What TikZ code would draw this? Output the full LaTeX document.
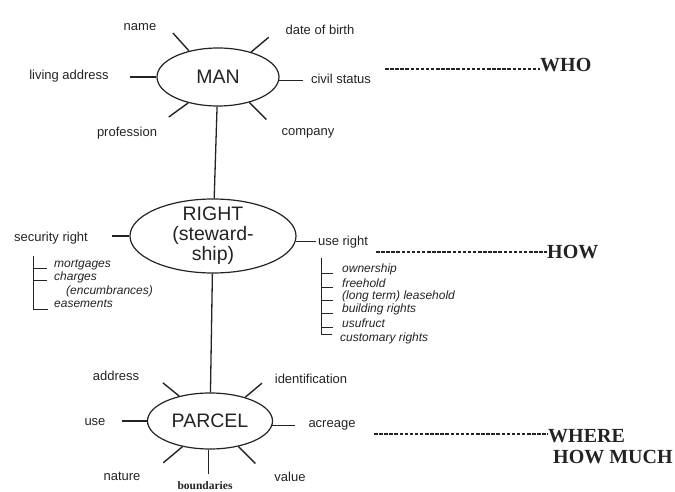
\documentclass[tikz,border=0pt]{standalone}
\usepackage{fontspec}
\setmainfont{Liberation Serif}
\setsansfont{Liberation Sans}
\usetikzlibrary{shapes.geometric,calc}
\definecolor{ink}{RGB}{35,35,35}
\tikzset{
  entity/.style={draw=ink, ellipse, line width=1.2pt, align=center,
                 inner xsep=0pt, inner ysep=-8pt, text=ink,
                 font=\sffamily\fontsize{19.5}{20}\selectfont},
  attr/.style  ={font=\sffamily\fontsize{13}{15}\selectfont,
                 text=ink, inner sep=1pt},
  item/.style  ={font=\sffamily\itshape\fontsize{12}{13}\selectfont,
                 text=ink, anchor=west, inner sep=0pt},
  spoke/.style ={draw=ink, line width=1.4pt},
  link/.style  ={draw=ink, line width=1.3pt},
  brk/.style   ={draw=ink, line width=1pt},
  qline/.style ={draw=ink, line width=1.3pt, dash pattern=on 3.5pt off 1.6pt},
  qword/.style ={font=\bfseries\fontsize{20}{21}\selectfont,
                 text=ink, anchor=base west, inner sep=0pt},
}

\begin{document}
\begin{tikzpicture}[x=1pt,y=1pt]
  \useasboundingbox (0,0) rectangle (675,-492);
  %% the three entities
  \node[entity, minimum width=122pt, minimum height=58pt] (man) at (218,-77) {MAN};
  \node[entity, minimum width=166pt, minimum height=74pt] (right) at (213,-236)
       {RIGHT\\(steward-\\ship)};
  \node[entity, minimum width=125pt, minimum height=56pt] (parcel) at (210,-421) {PARCEL};
  \draw[link] (man) -- (right);
  \draw[link] (right) -- (parcel);

  %% attributes of MAN
  \node[attr] (name)    at (140,-27)  {name};
  \node[attr] (birth)   at (320,-30)  {date of birth};
  \node[attr] (living)  at (69,-76)   {living address};
  \node[attr] (civil)   at (341,-79)  {civil status};
  \node[attr] (prof)    at (127,-133) {profession};
  \node[attr] (company) at (308,-133) {company};
  \draw[spoke] (man.138) -- ++(132:24);
  \draw[spoke] (man.37)  -- ++(40:23);
  \draw[spoke] (man.180) -- ++(180:26);
  \draw[spoke] (man.-3)  -- ++(0:24);
  \draw[spoke] (man.221) -- ++(216:24);
  \draw[spoke] (man.321) -- ++(315:24);

  %% kinds of RIGHT
  \node[attr] (secright) at (51,-238)  {security right};
  \node[attr] (useright) at (343,-242) {use right};
  \draw[spoke] (right.180) -- ++(180:17);
  \draw[spoke] (right.-4)  -- ++(0:20);

  \node[item] (mortg) at (54,-265) {mortgages};
  \node[item] (charg) at (54,-277) {charges};
  \node[item] (encum) at (66,-291) {(encumbrances)};
  \node[item] (easem) at (54,-304) {easements};
  \coordinate (secbar) at (33,-256);
  \draw[brk] (secbar) |- ($(easem.west)+(-6,-5)$);
  \foreach \it in {mortg,charg}
    \draw[brk] ($(secbar |- \it.west)+(0,-3)$) -- ++(14,0);

  \node[item] (owner)  at (342,-269) {ownership};
  \node[item] (free)   at (342,-283) {freehold};
  \node[item] (lease)  at (342,-296) {(long term) leasehold};
  \node[item] (build)  at (342,-309) {building rights};
  \node[item] (usufr)  at (342,-323) {usufruct};
  \node[item] (custom) at (340,-338) {customary rights};
  \coordinate (usebar) at (321,-258);
  \draw[brk] (usebar) |- ($(custom.west)+(-8,4)$);
  \foreach \it in {owner,free,lease,build,usufr}
    \draw[brk] ($(usebar |- \it.west)+(0,-4)$) -- ++(12,0);

  %% attributes of PARCEL
  \node[attr] (address) at (116,-376) {address};
  \node[attr] (ident)   at (311,-379) {identification};
  \node[attr] (use)     at (95,-422)  {use};
  \node[attr] (acre)    at (332,-425) {acreage};
  \node[attr] (nature)  at (122,-476) {nature};
  \node[attr, font=\bfseries\fontsize{11.5}{12}\selectfont] (bound) at (205,-486) {boundaries};
  \node[attr] (value)   at (290,-477) {value};
  \draw[spoke] (parcel.141) -- ++(141:21);
  \draw[spoke] (parcel.34)  -- ++(40:22);
  \draw[spoke] (parcel.180) -- ++(180:25);
  \draw[spoke] (parcel.-4)  -- ++(0:23);
  \draw[spoke] (parcel.223) -- ++(220:25);
  \draw[spoke] (parcel.267) -- ++(270:24);
  \draw[spoke] (parcel.318) -- ++(315:24);

  %% the questions
  \node[qword] (who) at (540,-72) {WHO};
  \coordinate (whostart) at (385,-69);
  \draw[qline] (whostart) -- (whostart -| who.west);
  \node[qword] (how) at (547,-258) {HOW};
  \coordinate (howstart) at (376,-252);
  \draw[qline] (howstart) -- (howstart -| how.west);
  \node[qword] (where)   at (548,-442) {WHERE};
  \node[qword] (howmuch) at (553,-463) {HOW MUCH};
  \coordinate (wherestart) at (374,-434);
  \draw[qline] (wherestart) -- (wherestart -| where.west);
\end{tikzpicture}
\end{document}
